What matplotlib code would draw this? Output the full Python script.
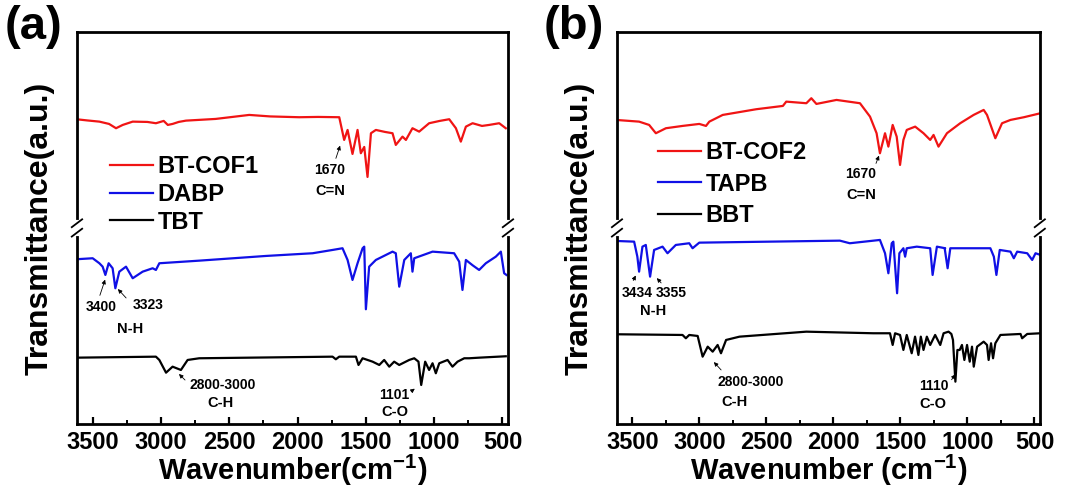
import matplotlib
matplotlib.use("Agg")
import matplotlib.pyplot as plt
from matplotlib.ticker import MultipleLocator

plt.rcParams['font.family'] = ['Liberation Sans', 'DejaVu Sans']
plt.rcParams['font.weight'] = 'bold'
plt.rcParams['mathtext.fontset'] = 'custom'
plt.rcParams['mathtext.rm'] = 'Liberation Sans'
plt.rcParams['mathtext.bf'] = 'Liberation Sans:bold'

# ---- panel (a) spectra (wavenumber, transmittance a.u.) ----
cof1_wn = [3620, 3540, 3451, 3380, 3329, 3280, 3207, 3100, 3037, 2980, 2950, 2915, 2870, 2817,
           2600, 2354, 2200, 1988, 1850, 1695, 1659, 1634, 1598, 1561,
           1537, 1512, 1488, 1463, 1427, 1360, 1305, 1281, 1232, 1207, 1159, 1110, 1037, 960, 890, 841,
           805, 768, 719, 650, 598, 524, 476]
cof1_t = [304.7, 303.5, 302.3, 300, 295.7, 299, 302.3, 302, 300.7, 303, 299, 300, 302, 303.3,
          305, 309, 307.5, 306.7, 307, 306.7, 284, 294, 270, 294,
          270.7, 277, 247, 290.7, 294, 292, 290.7, 279, 287.3, 284, 295.7, 292.3, 300.7, 303, 304.7, 295.7,
          282.3, 297.3, 300.7, 298, 299, 300.7, 295.7]

dabp_wn = [3620, 3500, 3451, 3427, 3407, 3383, 3354, 3334, 3305, 3256, 3207, 3134, 3061, 3037,
           3012, 2720, 2232, 1890, 1744, 1671, 1634, 1598, 1561, 1524, 1512, 1500, 1476, 1427,
           1305, 1281, 1256, 1219, 1171, 1159, 1146, 1012, 854, 817, 793, 768, 719, 671, 622,
           549, 512, 488, 471]
dabp_t = [164.7, 165.7, 160.7, 157.3, 149, 160.7, 155.7, 135.7, 152.3, 157.3, 145.7, 152.3, 155.7, 154,
          160.7, 163.3, 168, 170.7, 174, 175.7, 164, 144, 160.7, 175.7, 177.3, 114.7, 157.3, 164,
          172.3, 170.7, 137.3, 164, 170.7, 152.3, 165.7, 172.3, 170.7, 162.3, 134, 164, 158.7, 154, 160.7,
          167.3, 172.3, 150.7, 149]

tbt_wn = [3620, 3037, 3012, 2963, 2915, 2854, 2805, 2720, 1744, 1720, 1695, 1573, 1554, 1524,
          1451, 1402, 1366, 1329, 1293, 1256, 1183, 1146, 1115, 1095, 1066, 1037, 1012, 988,
          963, 902, 866, 829, 780, 744, 671, 476]
tbt_t = [66.3, 67.3, 64, 51.3, 57.3, 54, 64, 65.7, 67.3, 64.7, 67.3, 67.3, 59, 65.7,
         62.3, 59, 64, 57.3, 62.3, 59, 64, 65.7, 62.3, 39, 62.3, 54, 60.7, 50.7,
         60.7, 64, 57.3, 62.3, 65.7, 65.7, 66.3, 67.7]

# ---- panel (b) spectra ----
cof2_wn = [3622, 3450, 3375, 3325, 3250, 3126, 3001, 2951, 2926, 2826, 2576, 2377, 2352, 2202,
           2165, 2127, 1977, 1802, 1727, 1678, 1653, 1615, 1590, 1558, 1528, 1503, 1478, 1453,
           1390, 1328, 1278, 1253, 1216, 1153, 1054, 954, 879, 854, 792, 742, 679, 579, 455]
cof2_t = [304, 302.3, 299, 290.7, 295.7, 298, 300, 298, 302.3, 309, 314.7, 318, 322.3, 320.7,
          325.7, 320, 324, 320.7, 307.3, 290.7, 270.7, 290.7, 277.3, 299, 287.3, 259, 284, 294,
          297.3, 290.7, 284, 289, 277.3, 290.7, 300.7, 309, 314, 309, 285.7, 300.7, 304, 306.7, 310.7]

tapb_wn = [3622, 3487, 3463, 3450, 3425, 3400, 3368, 3338, 3275, 3238, 3176, 3076, 3051, 3001,
           1952, 1878, 1653, 1615, 1590, 1565, 1553, 1525, 1508, 1478, 1465, 1453, 1378, 1278,
           1260, 1228, 1166, 1170, 1148, 1128, 829, 803, 784, 759, 679, 654, 629, 554, 517, 492, 455]
tapb_t = [183, 182.3, 167.3, 152.3, 177.3, 179, 147.3, 174, 177.3, 170.7, 179, 180.7, 175.7, 181.3,
          183.3, 180.7, 184, 170.7, 150.7, 180.7, 182.3, 130.7, 170.7, 175.7, 167.3, 175.7, 177.3, 175.7,
          149, 177.3, 175.7, 175.7, 155.7, 175.7, 175.7, 167.3, 149, 174, 172.3, 165.7, 172.3, 170.7, 164, 170.7, 169]

bbt_wn = [3622, 3126, 3101, 3076, 3013, 2988, 2976, 2938, 2901, 2864, 2839, 2801, 2701, 2202,
          1703, 1578, 1558, 1540, 1503, 1478, 1453, 1416, 1391, 1366, 1348, 1328, 1303, 1278,
          1241, 1203, 1178, 1141, 1120, 1108, 1090, 1075, 1058, 1041, 1023, 1003, 983, 966, 953, 928,
          879, 854, 842, 824, 809, 792, 754, 604, 592, 554, 455]
bbt_t = [89.7, 89, 85.7, 89, 88, 74, 67.3, 77.3, 72.3, 79, 70.7, 84, 87.3, 92.3,
         90.7, 90.7, 79, 90.7, 89, 74, 89, 70.7, 87.3, 69, 87.3, 74, 87.3, 79,
         89, 79, 90.7, 92.3, 90, 84, 42.3, 74, 74, 79, 64, 79, 62.3, 77.3, 57.3, 77.3,
         82.3, 79, 64, 80.7, 65.7, 80.7, 89, 90, 85.7, 90, 90.7]

labels_a = ['BT-COF1', 'DABP', 'TBT']
labels_b = ['BT-COF2', 'TAPB', 'BBT']
colors = ['#f01414', '#1010e6', '#000000']

fig = plt.figure(figsize=(10.87, 4.91), dpi=100)
ax1 = fig.add_axes([0.0708, 0.1365, 0.3965, 0.7985])
ax2 = fig.add_axes([0.5676, 0.1365, 0.389, 0.7985])


def style_axis(ax, xlabel):
    ax.set_xlim(3615, 460)
    ax.set_ylim(0, 392)
    ax.set_yticks([])
    ax.xaxis.set_major_locator(MultipleLocator(500))
    ax.xaxis.set_minor_locator(MultipleLocator(250))
    ax.tick_params(axis='x', which='major', direction='in', length=5, width=1.6,
                   labelsize=17, pad=5)
    ax.tick_params(axis='x', which='minor', direction='in', length=3, width=1.4)
    for lab in ax.get_xticklabels():
        lab.set_fontweight('bold')
    for sp in ax.spines.values():
        sp.set_linewidth(2.0)
    ax.set_xlabel(xlabel, fontsize=21, fontweight='bold', labelpad=-1)
    ax.set_ylabel('Transmittance(a.u.)', fontsize=23, fontweight='bold', labelpad=16)
    # axis break marks on both side spines
    for xs in (0, 1):
        ax.plot([xs, xs], [0.485, 0.515], color='white', lw=3, transform=ax.transAxes,
                clip_on=False, zorder=5)
        for dy in (-0.012, 0.012):
            ax.plot([xs - 0.012, xs + 0.012], [0.49 + dy, 0.51 + dy], color='black', lw=1.3,
                    transform=ax.transAxes, clip_on=False, zorder=6)


ax1.plot(cof1_wn, cof1_t, color=colors[0], lw=1.6, label=labels_a[0])
ax1.plot(dabp_wn, dabp_t, color=colors[1], lw=1.6, label=labels_a[1])
ax1.plot(tbt_wn, tbt_t, color=colors[2], lw=1.6, label=labels_a[2])
ax2.plot(cof2_wn, cof2_t, color=colors[0], lw=1.6, label=labels_b[0])
ax2.plot(tapb_wn, tapb_t, color=colors[1], lw=1.6, label=labels_b[1])
ax2.plot(bbt_wn, bbt_t, color=colors[2], lw=1.6, label=labels_b[2])

style_axis(ax1, r'Wavenumber(cm$^{\mathbf{-1}}$)')
style_axis(ax2, r'Wavenumber (cm$^{\mathbf{-1}}$)')

ax1.legend(loc='upper left', bbox_to_anchor=(0.055, 0.71), frameon=False,
           prop={'size': 17, 'weight': 'bold'}, handlelength=1.8, handletextpad=0.2,
           labelspacing=0.2, borderaxespad=0)
ax2.legend(loc='upper left', bbox_to_anchor=(0.075, 0.745), frameon=False,
           prop={'size': 17, 'weight': 'bold'}, handlelength=1.8, handletextpad=0.2,
           labelspacing=0.35, borderaxespad=0)

fig.text(0.004, 0.99, '(a)', fontsize=34, fontweight='bold', va='top')
fig.text(0.500, 0.99, '(b)', fontsize=34, fontweight='bold', va='top')

H = 491
# (axes, text, text x px, text y px, arrow tail x, tail y, arrow tip x, tip y) in image pixels
notes = [
    (ax1, '1670', 330, 170, 335, 161, 341, 143),
    (ax1, '3400', 101, 307, 99, 298, 106, 277),
    (ax1, '3323', 148, 305, 128, 300, 116, 287),
    (ax1, '2800-3000', 223, 385, 187, 382, 177, 372),
    (ax1, '1101', 394, 395, 409, 393, 417, 387),
    (ax2, '1670', 861, 174, 875, 166, 880, 153),
    (ax2, '3434', 637, 293, 632, 283, 637, 273),
    (ax2, '3355', 671, 293, 663, 285, 655, 276),
    (ax2, '2800-3000', 751, 382, 723, 372, 712, 360),
    (ax2, '1110', 934, 386, 950, 382, 957, 372),
]
for ax, txt, tx, ty, x0, y0, x1, y1 in notes:
    fig.text(tx / 1087, 1 - ty / H, txt, fontsize=10, fontweight='bold', ha='center', va='center')
    ax.annotate('', xy=(x1, H - y1), xycoords='figure pixels',
                xytext=(x0, H - y0), textcoords='figure pixels', annotation_clip=False,
                arrowprops=dict(arrowstyle='-|>', color='black', lw=0.6, mutation_scale=6))

groups = [('C=N', 330, 191), ('N-H', 130, 329), ('C-H', 220, 403), ('C-O', 395, 412),
          ('C=N', 861, 195), ('N-H', 653, 311), ('C-H', 735, 402), ('C-O', 933, 404)]
for txt, tx, ty in groups:
    fig.text(tx / 1087, 1 - ty / H, txt, fontsize=10.5, fontweight='bold', ha='center', va='center')

fig.savefig('out.png', dpi=100)
